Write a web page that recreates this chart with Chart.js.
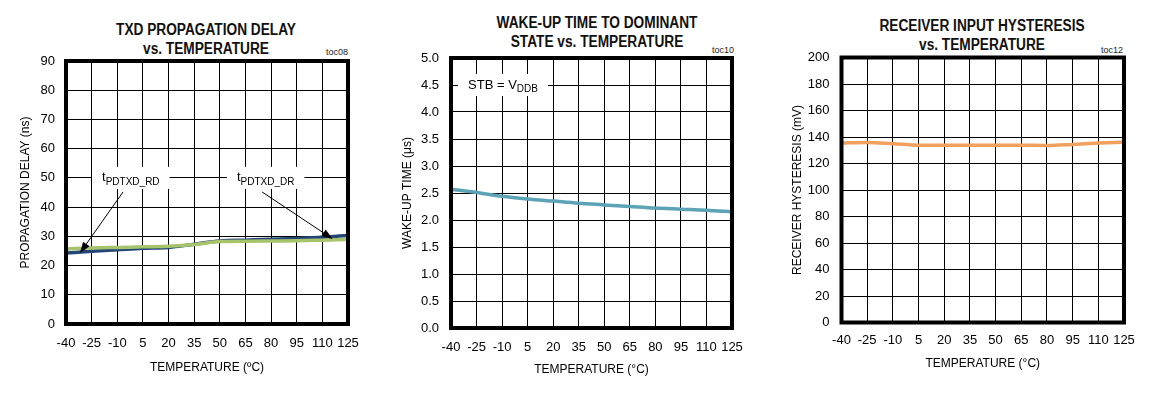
<!DOCTYPE html>
<html><head><meta charset="utf-8">
<script src="https://cdn.jsdelivr.net/npm/chart.js@4.4.1/dist/chart.umd.min.js"></script>
<style>
body{margin:0;background:#fff;width:1156px;height:393px;overflow:hidden;position:relative;font-family:'Liberation Sans Narrow','Arial Narrow','Liberation Sans',Arial,sans-serif;}
.panel{position:absolute;top:0;}
.ttl{position:absolute;font-weight:bold;font-size:16px;line-height:19px;text-align:center;color:#111;white-space:nowrap;transform:translateX(-50%) scaleX(0.855);}
.toc{position:absolute;font-size:9px;line-height:11px;color:#222;transform:translateX(-50%);}
</style></head>
<body>
<div class="ttl" style="left:206px;top:20px">TXD PROPAGATION DELAY<br>vs. TEMPERATURE</div>
<div class="ttl" style="left:597px;top:13px">WAKE-UP TIME TO DOMINANT<br>STATE vs. TEMPERATURE</div>
<div class="ttl" style="left:982px;top:16px">RECEIVER INPUT HYSTERESIS<br>vs. TEMPERATURE</div>
<div class="toc" style="left:337px;top:47px">toc08</div>
<div class="toc" style="left:723px;top:45px">toc10</div>
<div class="toc" style="left:1112px;top:45px">toc12</div>
<canvas class="panel" id="c1" width="380" height="393" style="left:0px"></canvas>
<canvas class="panel" id="c2" width="390" height="393" style="left:380px"></canvas>
<canvas class="panel" id="c3" width="386" height="393" style="left:770px"></canvas>
<script>
// ---- data ----
const temps = [-40, -25, -10, 5, 20, 35, 50, 65, 80, 95, 110, 125];
const xTicks = [-40, -25, -10, 5, 20, 35, 50, 65, 80, 95, 110, 125];

const delayRD = [24.3, 24.9, 25.4, 25.9, 26.2, 27.3, 28.4, 28.7, 29.0, 29.3, 29.7, 30.3];
const delayDR = [25.7, 26.0, 26.2, 26.4, 26.6, 27.2, 28.2, 28.3, 28.4, 28.5, 28.7, 28.9];
const delayTicks = [0, 10, 20, 30, 40, 50, 60, 70, 80, 90];

const wakeTime = [2.57, 2.51, 2.44, 2.39, 2.35, 2.31, 2.28, 2.25, 2.22, 2.20, 2.18, 2.15];
const wakeTicks = [0, 0.5, 1.0, 1.5, 2.0, 2.5, 3.0, 3.5, 4.0, 4.5, 5.0];

const hysteresis = [135.4, 135.9, 134.9, 133.8, 133.8, 133.8, 133.8, 133.8, 133.6, 134.4, 135.4, 136.2];
const hystTicks = [0, 20, 40, 60, 80, 100, 120, 140, 160, 180, 200];

// ---- rendering ----
const FONT = "'Liberation Sans Narrow','Arial Narrow','Liberation Sans',Arial,sans-serif";
Chart.defaults.font.family = FONT;
Chart.defaults.color = '#000';

const framePlugin = {
  id: 'frame',
  afterDatasetsDraw(chart) {
    const {ctx, chartArea: a} = chart;
    ctx.save();
    ctx.strokeStyle = '#000';
    ctx.lineWidth = 4;
    ctx.strokeRect(a.left, a.top, a.right - a.left, a.bottom - a.top);
    ctx.restore();
  }
};

const notesPlugin = {
  id: 'notes',
  beforeDatasetsDraw(chart, args, opts) {
    const {ctx, scales} = chart;
    (opts.labels || []).forEach(l => {
      const x = scales.x.getPixelForValue(l.x);
      const y = scales.y.getPixelForValue(l.y);
      ctx.save();
      ctx.font = '13px ' + FONT;
      const w1 = ctx.measureText(l.main).width;
      ctx.font = '10px ' + FONT;
      const w2 = ctx.measureText(l.sub).width;
      const w = w1 + w2;
      ctx.fillStyle = '#fff';
      ctx.fillRect(x - 10, y - 11, w + 20, 22);
      ctx.fillStyle = '#000';
      ctx.textBaseline = 'middle';
      ctx.font = '13px ' + FONT;
      ctx.fillText(l.main, x, y);
      ctx.font = '10px ' + FONT;
      ctx.fillText(l.sub, x + w1, y + 4);
      ctx.restore();
    });
  },
  afterDatasetsDraw(chart, args, opts) {
    const {ctx, scales} = chart;
    (opts.arrows || []).forEach(a => {
      const x0 = scales.x.getPixelForValue(a.from[0]), y0 = scales.y.getPixelForValue(a.from[1]);
      const x1 = scales.x.getPixelForValue(a.to[0]), y1 = scales.y.getPixelForValue(a.to[1]);
      const ang = Math.atan2(y1 - y0, x1 - x0);
      ctx.save();
      ctx.strokeStyle = '#000';
      ctx.fillStyle = '#000';
      ctx.lineWidth = 1;
      ctx.beginPath();
      ctx.moveTo(x0, y0);
      ctx.lineTo(x1 - 8 * Math.cos(ang), y1 - 8 * Math.sin(ang));
      ctx.stroke();
      ctx.beginPath();
      ctx.moveTo(x1, y1);
      ctx.lineTo(x1 - 11 * Math.cos(ang) + 4 * Math.sin(ang), y1 - 11 * Math.sin(ang) - 4 * Math.cos(ang));
      ctx.lineTo(x1 - 11 * Math.cos(ang) - 4 * Math.sin(ang), y1 - 11 * Math.sin(ang) + 4 * Math.cos(ang));
      ctx.closePath();
      ctx.fill();
      ctx.restore();
    });
  }
};

function makeChart(id, o) {
  return new Chart(document.getElementById(id), {
    type: 'line',
    data: {
      datasets: o.series.map(s => ({
        data: temps.map((t, i) => ({x: t, y: s.values[i]})),
        borderColor: s.color,
        borderWidth: 3.5,
        pointRadius: 0,
        cubicInterpolationMode: 'monotone',
        fill: false
      }))
    },
    options: {
      responsive: false,
      animation: false,
      events: [],
      layout: {padding: o.pad},
      plugins: {legend: {display: false}, tooltip: {enabled: false}, notes: o.notes || {}},
      scales: {
        x: {
          type: 'linear', min: -40, max: 125,
          afterBuildTicks: s => { s.ticks = xTicks.map(v => ({value: v})); },
          afterFit: s => { s.height = o.xH; },
          grid: {color: '#000', lineWidth: 1, drawTicks: false},
          border: {display: false},
          ticks: {padding: o.xPad, autoSkip: false, maxRotation: 0, color: '#000', font: {size: 13}},
          title: {display: true, text: o.xTitle, color: '#000', font: {size: 12}, padding: {top: 4, bottom: 4}}
        },
        y: {
          type: 'linear', min: o.yTicks[0], max: o.yTicks[o.yTicks.length - 1],
          afterBuildTicks: s => { s.ticks = o.yTicks.map(v => ({value: v})); },
          afterFit: s => { s.width = o.yW; },
          grid: {color: '#000', lineWidth: 1, drawTicks: false},
          border: {display: false},
          ticks: {padding: o.yPad, autoSkip: false, color: '#000', font: {size: 13},
                  callback: v => o.yFmt ? o.yFmt(v) : String(v)},
          title: {display: true, text: o.yTitle, color: '#000', font: {size: 12}, padding: {top: 4, bottom: 4}}
        }
      }
    },
    plugins: [notesPlugin, framePlugin]
  });
}

makeChart('c1', {
  series: [{values: delayDR, color: '#a7c36b'}, {values: delayRD, color: '#244677'}],
  yTicks: delayTicks,
  pad: {left: 14, top: 61, right: 32, bottom: 14},
  yW: 52, xH: 55, xPad: 12, yPad: 11,
  xTitle: 'TEMPERATURE (ºC)',
  yTitle: 'PROPAGATION DELAY (ns)',
  notes: {
    labels: [
      {x: -18.9, y: 50, main: 't', sub: 'PDTXD_RD'},
      {x: 60.0, y: 50, main: 't', sub: 'PDTXD_DR'}
    ],
    arrows: [
      {from: [-6.6, 45.2], to: [-31.8, 24.3]},
      {from: [74.7, 45.2], to: [116, 29.1]}
    ]
  }
});

makeChart('c2', {
  series: [{values: wakeTime, color: '#5ba3b5'}],
  yTicks: wakeTicks,
  yFmt: v => v.toFixed(1),
  pad: {left: 16, top: 58, right: 38, bottom: 12},
  yW: 55, xH: 53, xPad: 12, yPad: 12,
  xTitle: 'TEMPERATURE (°C)',
  yTitle: 'WAKE-UP TIME (μs)',
  notes: {
    labels: [{x: -30, y: 4.5, main: 'STB = V', sub: 'DDB'}],
    arrows: []
  }
});

makeChart('c3', {
  series: [{values: hysteresis, color: '#f2a05e'}],
  yTicks: hystTicks,
  pad: {left: 16, top: 57.5, right: 32, bottom: 18},
  yW: 55.5, xH: 52.5, xPad: 10.5, yPad: 12,
  xTitle: 'TEMPERATURE (°C)',
  yTitle: 'RECEIVER HYSTERESIS (mV)'
});
</script>
</body></html>
